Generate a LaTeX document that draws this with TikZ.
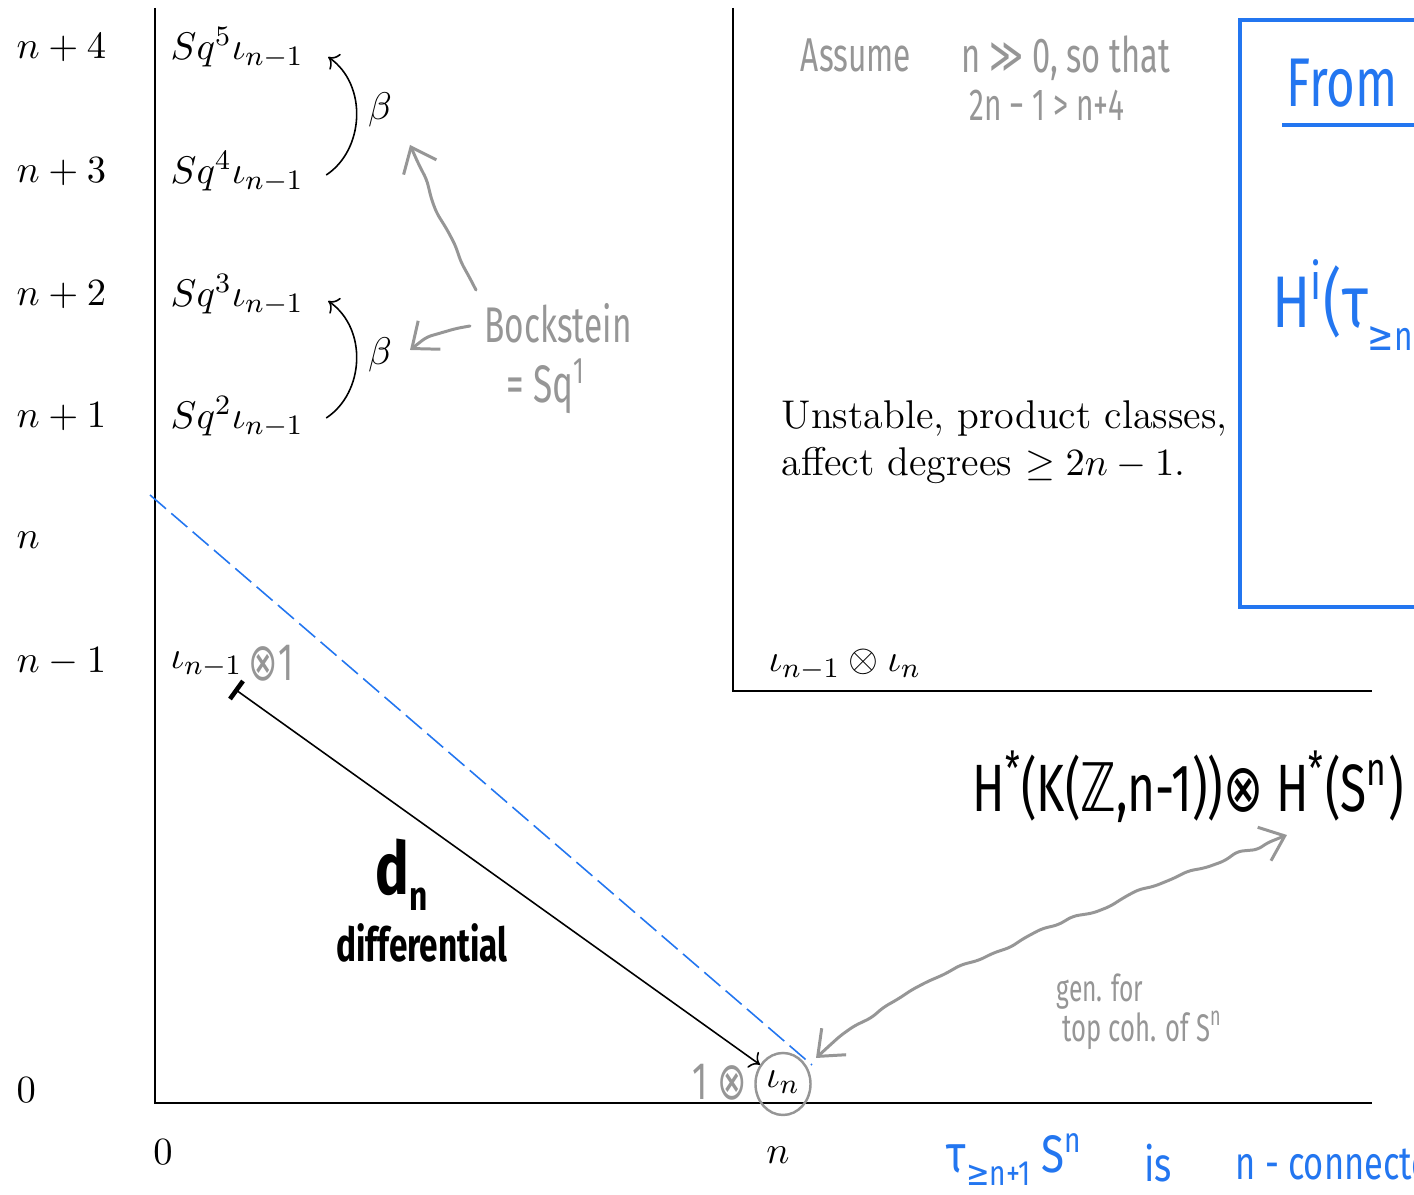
\documentclass[tikz,border=0pt]{standalone}
\usepackage{amsmath,amssymb}
\usepackage{fontspec}
\usetikzlibrary{arrows.meta,decorations.pathmorphing,calc,shapes.geometric}
\newfontfamily\hand{Fira Sans}
\newfontfamily\dv{DejaVu Sans}
\definecolor{hgray}{RGB}{150,150,150}
\definecolor{hblue}{RGB}{35,118,240}
\newcommand\hw[3]{\scalebox{1}[#2]{\fontsize{#1}{#1}\selectfont\hand #3}}
\pgfmathsetseed{7}
\tikzset{
  axis/.style={line width=0.45pt, black},
  gwave/.style={hgray, line width=0.85pt, line cap=round, line join=round,
    decorate, decoration={random steps, segment length=5pt, amplitude=0.8pt, pre length=4pt, post length=6pt},
    rounded corners=1.5pt},
  barb/.style={-{Straight Barb[length=2.2mm,width=3.6mm]}},
  dbarb/.style={{Straight Barb[length=2.2mm,width=3.6mm]}-{Straight Barb[length=2.2mm,width=3.6mm]}},
  bluedash/.style={hblue, line width=0.45pt, dash pattern=on 6pt off 2pt},
}
\begin{document}
\begin{tikzpicture}[x=0.01cm,y=-0.01cm,
  every node/.style={inner sep=0pt, font=\fontsize{11.4}{13.4}\selectfont}]
\useasboundingbox (0,0) rectangle (1414,1195);
\clip (0,0) rectangle (1414,1195);

% axes
\coordinate (ytop) at (155,8);
\coordinate (O) at (155,1103);
\coordinate (xend) at (1372,1103);
\draw[axis] (ytop) -- (O) -- (xend);
% product box
\coordinate (bt) at (733,8);
\coordinate (bc) at (733,691);
\coordinate (br) at (1372,691);
\draw[axis] (bt) -- (bc) -- (br);

% y labels
\node[anchor=west] (y4) at (16,48) {$n+4$};
\node[anchor=west] (y3) at (16,172) {$n+3$};
\node[anchor=west] (y2) at (16,295) {$n+2$};
\node[anchor=west] (y1) at (16,417) {$n+1$};
\node[anchor=west] (y0) at (16,540) {$n$};
\node[anchor=west] (ym) at (16,662) {$n-1$};
\node[anchor=west] (yz) at (16,1090) {$0$};
% x labels
\node (x0) at (163,1152) {$0$};
\node (xn) at (778,1155) {$n$};

% Sq labels
\node[anchor=west] (s5) at (170,48) {$Sq^5\iota_{n-1}$};
\node[anchor=west] (s4) at (170,172) {$Sq^4\iota_{n-1}$};
\node[anchor=west] (s3) at (170,295) {$Sq^3\iota_{n-1}$};
\node[anchor=west] (s2) at (170,417) {$Sq^2\iota_{n-1}$};

% beta arrows
\draw[->, line width=0.45pt] ($(s4.east)+(22,3)$) .. controls +(38,-25) and +(40,28) .. ($(s5.east)+(24,9)$);
\draw[->, line width=0.45pt] ($(s2.east)+(22,1)$) .. controls +(38,-25) and +(40,28) .. ($(s3.east)+(24,6)$);
\node (b1) at (380,110) {$\beta$};
\node (b2) at (380,355) {$\beta$};

% Bockstein
\node[text=hgray] (bock) at (558,323) {\hw{9.5}{1.5}{Bockstein}};
\node[text=hgray] (sq1) at (546,386) {\hw{10}{1.5}{= Sq\textsuperscript{1}}};
\coordinate (bk1) at (476,290);
\coordinate (bk1e) at (410,145);
\coordinate (bk2) at (470,326);
\coordinate (bk2e) at (410,350);
\draw[gwave, barb] (bk1) .. controls (452,245) and (435,200) .. (bk1e);
\draw[gwave, barb] (bk2) .. controls (445,330) and (425,335) .. (bk2e);

% assumption
\node[text=hgray] (assume) at (856,55) {\hw{9}{1.5}{Assume}};
\node[text=hgray] (ngg) at (1066,58) {\hw{9.3}{1.5}{n {\dv ≫} 0, so that}};
\node[text=hgray] (ineq) at (1047,105) {\hw{8.5}{1.5}{2n − 1 > n+4}};

% unstable text
\node[anchor=north west, align=left] (unst) at (781,400) {Unstable, product classes,\\ affect degrees $\geq 2n-1$.};
\node[anchor=west] (prod) at (768,665) {$\iota_{n-1}\otimes\iota_n$};

% iota_{n-1} (x) 1
\node[anchor=west] (inm) at (170,665) {$\iota_{n-1}$};
\node[text=hgray, anchor=west] (ot1) at (248,663) {\hw{10}{1.5}{{\dv⊗}1}};

% 1 (x) iota_n
\node[text=hgray] (one) at (720,1082) {\hw{10}{1.5}{1 {\dv⊗}}};
\node (ln) at (783,1082) {$\iota_n$};
\node[ellipse, draw=hgray, line width=0.7pt, minimum width=0.55cm, minimum height=0.62cm] (lc) at (783,1084) {};

% d_n arrow
\coordinate (dstart) at (236,690);
\draw[line width=1.3pt] (230,699) -- (243,681);
\draw[->, line width=0.45pt] (dstart) -- (lc.140);
\node (dn) at (402,875) {\hw{16}{1.3}{\bfseries d\raisebox{-0.4ex}{\small n}}};
\node (diff) at (422,943) {\hw{9.5}{1.4}{\bfseries differential}};

% blue dashed
\coordinate (bd1) at (150,495);
\coordinate (bd2) at (812,1065);
\draw[bluedash] (bd1) -- (bd2);

% H* text and wavy arrow
\node (hk) at (1188,787) {\hw{13.6}{1.4}{H\textsuperscript{*}(K({\dv ℤ},n-1)){\dv ⊗} H\textsuperscript{*}(S\textsuperscript{n})}};
\coordinate (w1) at (816,1058);
\coordinate (w2) at (1287,835);
\draw[gwave, dbarb] (w1) .. controls (900,975) and (1150,890) .. (w2);
\node[text=hgray] (gen) at (1100,992) {\hw{7}{1.5}{gen. for}};
\node[text=hgray, anchor=west] (topc) at (1062,1030) {\hw{7.3}{1.5}{top coh. of S\textsuperscript{n}}};

% blue box
\draw[hblue, line width=0.9pt] (1240,20) rectangle (1440,607);
\node[text=hblue] (from) at (1342,83) {\hw{14}{1.4}{From}};
\coordinate (ul1) at (1282,125);
\coordinate (ul2) at (1440,125);
\draw[hblue, line width=1.1pt] (ul1) -- (ul2);
\node[text=hblue, anchor=west] (hi) at (1272,305) {\hw{16}{1.3}{H\textsuperscript{i}(τ\raisebox{-0.6ex}{\small{\dv ≥}n}}};

% bottom blue
\node[text=hblue, anchor=west] (tau) at (946,1160) {\hw{12}{1.25}{τ\raisebox{-0.5ex}{\footnotesize{\dv≥}n+1} S\textsuperscript{n}}};
\node[text=hblue] (is) at (1158,1163) {\hw{10.5}{1.3}{is}};
\node[text=hblue, anchor=west] (conn) at (1235,1162) {\hw{9.8}{1.35}{n - connected}};
\end{tikzpicture}
\end{document}
